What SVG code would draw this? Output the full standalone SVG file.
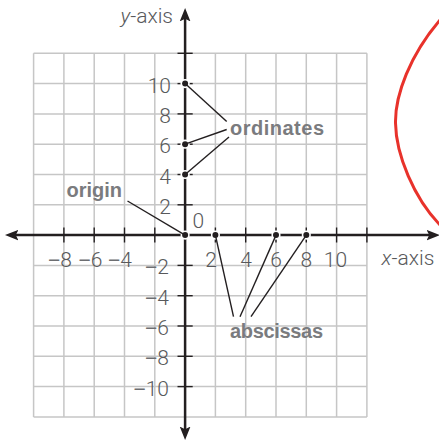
<svg xmlns="http://www.w3.org/2000/svg" width="439" height="441" viewBox="0 0 439 441">
<defs>
<style>
.grid line{stroke:#c6c6c6;stroke-width:1.5}
.axis{stroke:#231f20;stroke-width:2.5;fill:none}
.tick{stroke:#231f20;stroke-width:1.4}
.num{font-family:Roboto,"Liberation Sans",sans-serif;font-weight:300;font-size:21px;fill:#58595b}
.m{font-family:"Liberation Sans",Arial,sans-serif;font-weight:normal;fill:#6d6e71}
.lbl{font-family:"Liberation Sans",Arial,sans-serif;font-weight:bold;font-size:20px;fill:#7a7b7e}
.conn line{stroke:#231f20;stroke-width:1.4}
.halo{fill:#fff}
.dot{fill:#231f20}
</style>
<marker id="arr" markerUnits="userSpaceOnUse" markerWidth="14" markerHeight="12" refX="6" refY="5" orient="auto-start-reverse" viewBox="0 0 13 10">
<path d="M0,0 L12.5,5 L0,10 L2.5,5 Z" fill="#231f20"/>
</marker>
</defs>
<rect width="439" height="441" fill="#fff"/>
<g id="grid" class="grid">
<line x1="33.6" y1="53.3" x2="33.6" y2="416.9"/>
<line x1="63.9" y1="53.3" x2="63.9" y2="416.9"/>
<line x1="94.2" y1="53.3" x2="94.2" y2="416.9"/>
<line x1="124.5" y1="53.3" x2="124.5" y2="416.9"/>
<line x1="154.8" y1="53.3" x2="154.8" y2="416.9"/>
<line x1="215.4" y1="53.3" x2="215.4" y2="416.9"/>
<line x1="245.7" y1="53.3" x2="245.7" y2="416.9"/>
<line x1="276" y1="53.3" x2="276" y2="416.9"/>
<line x1="306.3" y1="53.3" x2="306.3" y2="416.9"/>
<line x1="336.6" y1="53.3" x2="336.6" y2="416.9"/>
<line x1="366.9" y1="53.3" x2="366.9" y2="416.9"/>
<line x1="33.6" y1="53.3" x2="366.9" y2="53.3"/>
<line x1="33.6" y1="83.6" x2="366.9" y2="83.6"/>
<line x1="33.6" y1="113.9" x2="366.9" y2="113.9"/>
<line x1="33.6" y1="144.2" x2="366.9" y2="144.2"/>
<line x1="33.6" y1="174.5" x2="366.9" y2="174.5"/>
<line x1="33.6" y1="204.8" x2="366.9" y2="204.8"/>
<line x1="33.6" y1="265.4" x2="366.9" y2="265.4"/>
<line x1="33.6" y1="295.7" x2="366.9" y2="295.7"/>
<line x1="33.6" y1="326" x2="366.9" y2="326"/>
<line x1="33.6" y1="356.3" x2="366.9" y2="356.3"/>
<line x1="33.6" y1="386.6" x2="366.9" y2="386.6"/>
<line x1="33.6" y1="416.9" x2="366.9" y2="416.9"/>
</g>
<g id="axes">
<line class="axis" x1="12" y1="235.1" x2="433" y2="235.1" marker-start="url(#arr)" marker-end="url(#arr)"/>
<line class="axis" x1="185.1" y1="15" x2="185.1" y2="433" marker-start="url(#arr)" marker-end="url(#arr)"/>
<g class="tick">
<line x1="63.9" y1="227.5" x2="63.9" y2="242.5"/>
<line x1="94.2" y1="227.5" x2="94.2" y2="242.5"/>
<line x1="124.5" y1="227.5" x2="124.5" y2="242.5"/>
<line x1="154.8" y1="227.5" x2="154.8" y2="242.5"/>
<line x1="215.4" y1="227.5" x2="215.4" y2="242.5"/>
<line x1="245.7" y1="227.5" x2="245.7" y2="242.5"/>
<line x1="276" y1="227.5" x2="276" y2="242.5"/>
<line x1="306.3" y1="227.5" x2="306.3" y2="242.5"/>
<line x1="336.6" y1="227.5" x2="336.6" y2="242.5"/>
<line x1="366.9" y1="227.5" x2="366.9" y2="242.5"/>
<line x1="177.5" y1="53.3" x2="192.7" y2="53.3"/>
<line x1="177.5" y1="83.6" x2="192.7" y2="83.6"/>
<line x1="177.5" y1="113.9" x2="192.7" y2="113.9"/>
<line x1="177.5" y1="144.2" x2="192.7" y2="144.2"/>
<line x1="177.5" y1="174.5" x2="192.7" y2="174.5"/>
<line x1="177.5" y1="204.8" x2="192.7" y2="204.8"/>
<line x1="177.5" y1="265.4" x2="192.7" y2="265.4"/>
<line x1="177.5" y1="295.7" x2="192.7" y2="295.7"/>
<line x1="177.5" y1="326" x2="192.7" y2="326"/>
<line x1="177.5" y1="356.3" x2="192.7" y2="356.3"/>
<line x1="177.5" y1="386.6" x2="192.7" y2="386.6"/>
</g>
</g>
<g id="axis-labels" class="num">
<text x="173" y="23" text-anchor="end"><tspan font-style="italic">y</tspan>-axis</text>
<text x="381.5" y="265"><tspan font-style="italic">x</tspan>-axis</text>
<text x="192.5" y="228">0</text>
<g text-anchor="end">
<text x="171" y="92.6">10</text>
<text x="171" y="122.9">8</text>
<text x="171" y="153.2">6</text>
<text x="171" y="183.5">4</text>
<text x="171" y="213.8">2</text>
<text x="169" y="274.4"><tspan class="m">−</tspan>2</text>
<text x="169" y="304.7"><tspan class="m">−</tspan>4</text>
<text x="169" y="335"><tspan class="m">−</tspan>6</text>
<text x="169" y="365.3"><tspan class="m">−</tspan>8</text>
<text x="169" y="395.6"><tspan class="m">−</tspan>10</text>
<text x="72" y="267"><tspan class="m">−</tspan>8</text>
<text x="102.5" y="267"><tspan class="m">−</tspan>6</text>
<text x="132" y="267"><tspan class="m">−</tspan>4</text>
</g>
<g text-anchor="middle">
<text x="211" y="267">2</text>
<text x="246" y="267">4</text>
<text x="276" y="267">6</text>
<text x="306.3" y="267">8</text>
<text x="335.5" y="267">10</text>
</g>
</g>
<g id="halos" class="halo">
<circle cx="185.1" cy="83.6" r="4.6"/>
<circle cx="185.1" cy="144.2" r="4.6"/>
<circle cx="185.1" cy="174.5" r="4.6"/>
<circle cx="185.1" cy="235.1" r="4.6"/>
<circle cx="215.4" cy="235.1" r="4.6"/>
<circle cx="276" cy="235.1" r="4.6"/>
<circle cx="306.3" cy="235.1" r="4.6"/>
</g>
<g id="connectors" class="conn">
<line x1="127.5" y1="201" x2="185.1" y2="235.1"/>
<line x1="185.1" y1="83.6" x2="226.7" y2="121.5"/>
<line x1="185.1" y1="144.2" x2="226.7" y2="129.5"/>
<line x1="185.1" y1="174.5" x2="229" y2="137"/>
<line x1="215.4" y1="235.1" x2="233.5" y2="316.7"/>
<line x1="276" y1="235.1" x2="240" y2="316.7"/>
<line x1="306.3" y1="235.1" x2="251" y2="316.7"/>
</g>
<g id="node-origin">
<circle class="dot" cx="185.1" cy="235.1" r="3"/>
<text class="lbl" x="66.5" y="196.5">origin</text>
</g>
<g id="node-ordinates">
<circle class="dot" cx="185.1" cy="83.6" r="3"/>
<circle class="dot" cx="185.1" cy="144.2" r="3"/>
<circle class="dot" cx="185.1" cy="174.5" r="3"/>
<text class="lbl" x="230" y="134.5" textLength="94">ordinates</text>
</g>
<g id="node-abscissas">
<circle class="dot" cx="215.4" cy="235.1" r="3"/>
<circle class="dot" cx="276" cy="235.1" r="3"/>
<circle class="dot" cx="306.3" cy="235.1" r="3"/>
<text class="lbl" x="230" y="338" textLength="93">abscissas</text>
</g>
<path id="curve" d="M440,20 C410,55 395,95 395.5,123 C396,155 414,198 440,225" fill="none" stroke="#e8322b" stroke-width="3"/>
</svg>
